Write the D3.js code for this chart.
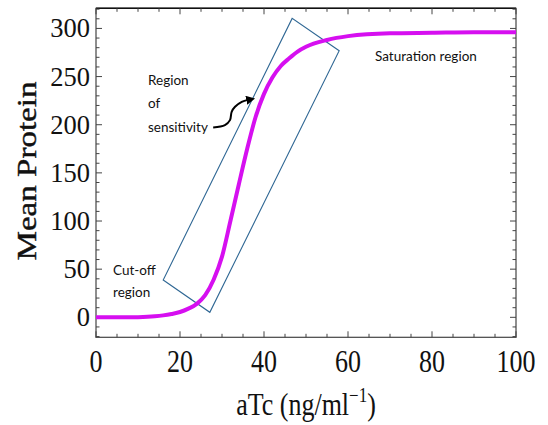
<!DOCTYPE html>
<html>
<head>
<meta charset="utf-8">
<script src="https://cdn.jsdelivr.net/npm/d3@7"></script>
<style>
  body { margin: 0; background: #fff; }
  svg { display: block; }
</style>
</head>
<body>
<div id="chart"></div>
<script>
"use strict";

// values
const atc     = [0, 5, 10, 14, 16, 18, 20, 22, 24, 26, 28, 30, 32, 34, 36, 38, 40, 42, 44, 46, 48, 50, 55, 60, 70, 80, 90, 100];
const protein = [0, 0, 0.2, 1, 2, 3.5, 5.5, 9, 14, 23, 39, 63, 100, 138, 175, 208, 232, 249, 261, 269, 276, 281, 288, 292, 295, 295.5, 296, 296];

const xMajor = [0, 20, 40, 60, 80, 100];
const yMajor = [0, 50, 100, 150, 200, 250, 300];
const xMinor = d3.range(0, 101, 5);
const yMinor = d3.range(-20, 321, 10);

// tilted box around the steep part (data units)
const boxX = [16.0, 27.1, 57.9, 46.7];
const boxY = [38.7, 5.2, 276.8, 310.4];

// curly arrow from "sensitivity" to the box
const arrowX = [27.9, 30.7, 31.9, 32.3, 33.1, 34.7, 36.2];
const arrowY = [197.2, 199.6, 204.8, 213.4, 218.6, 223.8, 225.8];

const width = 548, height = 425;
const svg = d3.select('#chart').append('svg')
    .attr('width', width).attr('height', height);

const x = d3.scaleLinear().domain([0, 100]).range([96, 516]);
const y = d3.scaleLinear().domain([-20.75, 320.9]).range([337.3, 8.3]);

const frameColor = '#444';

// frame
svg.append('rect')
    .attr('x', x(0)).attr('y', y(320.9))
    .attr('width', x(100) - x(0)).attr('height', y(-20.75) - y(320.9))
    .attr('fill', 'none').attr('stroke', frameColor).attr('stroke-width', 1.2);
svg.append('line')
    .attr('x1', x(0)).attr('x2', x(100))
    .attr('y1', y(320.9)).attr('y2', y(320.9))
    .attr('stroke', '#111').attr('stroke-width', 1.6);

// ticks, inward on all four sides
const tickG = svg.append('g').attr('stroke', frameColor).attr('stroke-width', 1);
const xt = xMinor.map(v => ({ v: v, len: xMajor.includes(v) ? 6 : 3.5 }));
const yt = yMinor.map(v => ({ v: v, len: yMajor.includes(v) ? 6 : 3.5 }));

tickG.selectAll('.xb').data(xt).enter().append('line')
    .attr('x1', d => x(d.v)).attr('x2', d => x(d.v))
    .attr('y1', y.range()[0]).attr('y2', d => y.range()[0] - d.len);
tickG.selectAll('.xt').data(xt).enter().append('line')
    .attr('x1', d => x(d.v)).attr('x2', d => x(d.v))
    .attr('y1', y.range()[1]).attr('y2', d => y.range()[1] + d.len);
tickG.selectAll('.yl').data(yt).enter().append('line')
    .attr('y1', d => y(d.v)).attr('y2', d => y(d.v))
    .attr('x1', x.range()[0]).attr('x2', d => x.range()[0] + d.len);
tickG.selectAll('.yr').data(yt).enter().append('line')
    .attr('y1', d => y(d.v)).attr('y2', d => y(d.v))
    .attr('x1', x.range()[1]).attr('x2', d => x.range()[1] - d.len);

// tick labels
svg.selectAll('.ylab').data(yMajor).enter().append('text')
    .attr('x', 90).attr('y', d => y(d) + 9)
    .attr('text-anchor', 'end')
    .style('font-family', '"Liberation Serif", "Times New Roman", serif')
    .style('font-size', '26.5px').attr('fill', '#111')
    .text(d => d);

svg.selectAll('.xlab').data(xMajor).enter().append('text')
    .attr('transform', d => `translate(${x(d)},372) scale(1,1.22)`)
    .attr('text-anchor', 'middle')
    .style('font-family', '"Liberation Serif", "Times New Roman", serif')
    .style('font-size', '26px').attr('fill', '#111')
    .text(d => d);

// axis titles
svg.append('text')
    .attr('transform', 'translate(35.5,171) rotate(-90) scale(1.18,1)')
    .attr('text-anchor', 'middle')
    .style('font-family', '"Liberation Serif", "Times New Roman", serif')
    .style('font-size', '28px').attr('fill', '#111')
    .attr('stroke', '#111').attr('stroke-width', 0.4)
    .text('Mean Protein');

const xt2 = svg.append('text')
    .attr('transform', 'translate(306,415) scale(1,1.2)')
    .attr('text-anchor', 'middle')
    .style('font-family', '"Liberation Serif", "Times New Roman", serif')
    .style('font-size', '26px').attr('fill', '#111');
xt2.append('tspan').text('aTc (ng/ml');
xt2.append('tspan').attr('dy', -11).style('font-size', '17px').text('\u22121');
xt2.append('tspan').attr('dy', 11).text(')');

// box
const boxPts = boxX.map((v, i) => [x(v), y(boxY[i])]);
svg.append('path')
    .attr('d', d3.line().curve(d3.curveLinearClosed)(boxPts))
    .attr('fill', 'none').attr('stroke', '#2f6794').attr('stroke-width', 1.1);

// curve
const curvePts = atc.map((v, i) => [x(v), y(protein[i])]);
svg.append('path')
    .attr('d', d3.line().curve(d3.curveMonotoneX)(curvePts))
    .attr('fill', 'none').attr('stroke', '#d60ff0').attr('stroke-width', 4)
    .attr('stroke-linecap', 'butt');

// arrow
svg.append('defs').append('marker')
    .attr('id', 'head').attr('viewBox', '0 0 10 10')
    .attr('refX', 2).attr('refY', 5)
    .attr('markerWidth', 9).attr('markerHeight', 9)
    .attr('markerUnits', 'userSpaceOnUse')
    .attr('orient', 'auto')
    .append('path').attr('d', 'M0,0 L10,5 L0,10 z').attr('fill', '#000');

const arrowPts = arrowX.map((v, i) => [x(v), y(arrowY[i])]);
svg.append('path')
    .attr('d', d3.line().curve(d3.curveCatmullRom)(arrowPts))
    .attr('fill', 'none').attr('stroke', '#000').attr('stroke-width', 2)
    .attr('marker-end', 'url(#head)');

// annotations
const noteFont = 'Lato, "Open Sans", sans-serif';
const notes = [
    { t: 'Region', px: 148, py: 85 },
    { t: 'of', px: 148, py: 108 },
    { t: 'sensitivity', px: 148, py: 132 },
    { t: 'Saturation region', px: 375, py: 61 },
    { t: 'Cut-off', px: 113, py: 275 },
    { t: 'region', px: 113, py: 297 }
];
svg.selectAll('.note').data(notes).enter().append('text')
    .attr('x', d => d.px).attr('y', d => d.py)
    .style('font-family', noteFont).style('font-size', '13.5px')
    .attr('fill', '#111')
    .text(d => d.t);
</script>
</body>
</html>
